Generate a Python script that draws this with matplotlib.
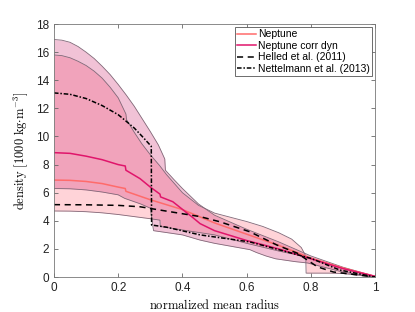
import matplotlib
matplotlib.use("Agg")
import matplotlib.pyplot as plt
import numpy as np

plt.rcParams['font.family'] = ['Liberation Sans', 'DejaVu Sans']
plt.rcParams['mathtext.fontset'] = 'cm'

# Neptune band (light pink)
nep_r_up = [0, 0.025, 0.05, 0.075, 0.1, 0.125, 0.15, 0.175, 0.2, 0.224, 0.226, 0.25, 0.273,
            0.3, 0.33, 0.35, 0.4, 0.45, 0.5, 0.55, 0.6, 0.65, 0.7, 0.74, 0.77, 0.785, 0.8,
            0.9, 1.0]
nep_up = [15.8, 15.75, 15.6, 15.35, 15.05, 14.65, 14.15, 13.5, 12.75, 11.6, 11.2, 10.3, 9.5,
          8.7, 7.9, 7.3, 6.0, 5.1, 4.55, 4.25, 3.95, 3.6, 3.15, 2.7, 2.1, 1.45, 1.3,
          0.6, 0.05]
nep_r_lo = [0, 0.05, 0.1, 0.15, 0.2, 0.25, 0.3, 0.33, 0.331, 0.4, 0.5, 0.6, 0.7, 0.784,
            0.785, 0.86, 0.9, 1.0]
nep_lo = [4.7, 4.69, 4.65, 4.57, 4.45, 4.3, 4.15, 4.05, 3.6, 3.35, 3.0, 2.4, 1.85, 1.45,
          0.28, 0.28, 0.25, 0.0]

# Neptune corr dyn band (purple pink)
dyn_r_up = [0, 0.025, 0.05, 0.075, 0.1, 0.125, 0.15, 0.175, 0.2, 0.225, 0.25, 0.275, 0.3,
            0.325, 0.345, 0.347, 0.375, 0.4, 0.45, 0.5, 0.6, 0.7, 0.8, 0.9, 1.0]
dyn_up = [16.9, 16.85, 16.7, 16.4, 16.0, 15.55, 15.0, 14.4, 13.7, 12.95, 12.15, 11.25, 10.35,
          9.4, 8.4, 7.6, 6.9, 6.3, 5.2, 4.4, 3.4, 2.5, 1.5, 0.7, 0.05]
dyn_r_lo = [0, 0.05, 0.1, 0.15, 0.2, 0.22, 0.27, 0.3, 0.31, 0.4, 0.455, 0.5, 0.61, 0.63,
            0.66, 0.69, 0.75, 0.79, 0.9, 1.0]
dyn_lo = [6.3, 6.28, 6.2, 6.05, 5.85, 5.6, 5.2, 4.9, 3.3, 3.0, 2.63, 2.4, 1.95, 1.75,
          1.5, 1.3, 1.1, 1.0, 0.35, 0.0]

# mean profiles
nep_r = [0, 0.05, 0.1, 0.15, 0.2, 0.222, 0.224, 0.3, 0.4, 0.5, 0.6, 0.7, 0.8, 0.9, 1.0]
nep = [6.9, 6.88, 6.8, 6.65, 6.4, 6.3, 6.1, 5.5, 4.8, 3.85, 3.05, 2.25, 1.35, 0.65, 0.05]
dyn_r = [0, 0.05, 0.1, 0.15, 0.2, 0.222, 0.224, 0.268, 0.3, 0.33, 0.332, 0.37, 0.434,
         0.455, 0.5, 0.6, 0.7, 0.8, 0.9, 1.0]
dyn = [8.85, 8.8, 8.6, 8.35, 8.0, 7.9, 7.6, 7.0, 6.4, 5.9, 5.7, 5.36, 4.2, 3.8, 3.3,
       2.6, 2.0, 1.3, 0.6, 0.05]

# Helled et al. (2011)
hel_r = [0, 0.1, 0.2, 0.268, 0.361, 0.455, 0.517, 0.61, 0.694, 0.757, 0.82, 0.87, 1.0]
hel = [5.15, 5.14, 5.1, 5.0, 4.65, 4.3, 3.93, 3.22, 2.28, 1.7, 0.73, 0.36, 0.0]

# Nettelmann et al. (2013)
net_r = [0, 0.05, 0.1, 0.15, 0.2, 0.224, 0.25, 0.275, 0.303, 0.304, 0.32, 0.35, 0.455,
         0.61, 0.8, 0.89, 1.0]
net = [13.1, 13.0, 12.7, 12.2, 11.55, 11.1, 10.6, 10.0, 9.3, 3.7, 3.65, 3.55, 3.0,
       2.5, 1.33, 0.5, 0.0]

fig = plt.figure(figsize=(4.15, 3.12), dpi=100)
ax = fig.add_axes([0.130, 0.112, 0.774, 0.811])

edge = '#806878'
r_grid = np.linspace(0, 1, 801)
ax.fill_between(r_grid, np.interp(r_grid, nep_r_lo, nep_lo), np.interp(r_grid, nep_r_up, nep_up),
                color='#ff6f7f', alpha=0.3, lw=0)
ax.fill_between(r_grid, np.interp(r_grid, dyn_r_lo, dyn_lo), np.interp(r_grid, dyn_r_up, dyn_up),
                color='#d23778', alpha=0.3, lw=0)
for rr, vv in [(nep_r_up, nep_up), (nep_r_lo, nep_lo), (dyn_r_up, dyn_up), (dyn_r_lo, dyn_lo)]:
    ax.plot(rr, vv, color=edge, lw=0.6)

ax.plot(nep_r, nep, color='#ff6b6b', lw=1.1, label='Neptune')
ax.plot(dyn_r, dyn, color='#e0156b', lw=1.1, label='Neptune corr dyn')
ax.plot(hel_r, hel, color='black', lw=1.1, ls=(0, (4, 3)), label='Helled et al. (2011)')
ax.plot(net_r, net, color='black', lw=1.1, ls=(0, (3, 1.2, 1, 1.2)),
        label='Nettelmann et al. (2013)')

ax.set_xlim(0, 1)
ax.set_ylim(0, 18)
ax.set_xticks(np.arange(0, 1.01, 0.2))
ax.set_xticklabels(['0', '0.2', '0.4', '0.6', '0.8', '1'])
ax.set_yticks(np.arange(0, 19, 2))
ax.tick_params(direction='in', top=True, right=True, labelsize=8.5, length=3,
               color='#666666', width=0.6, labelcolor='#222222')
for s in ax.spines.values():
    s.set_color('#777777')
    s.set_linewidth(0.6)

ax.set_xlabel(r'$\mathrm{normalized\ mean\ radius}$', fontsize=9, labelpad=3)
ax.set_ylabel(r'$\mathrm{density}\ [1000\ \mathrm{kg{\cdot}m^{-3}}]$', fontsize=9, labelpad=4)

leg = ax.legend(loc='upper right', fontsize=7.5, handlelength=1.8, handletextpad=0.2,
                borderpad=0.2, labelspacing=0.15, fancybox=False, framealpha=1,
                borderaxespad=0.3)
leg.get_frame().set_edgecolor('#555555')
leg.get_frame().set_linewidth(0.6)

fig.savefig('out.png', dpi=100)
